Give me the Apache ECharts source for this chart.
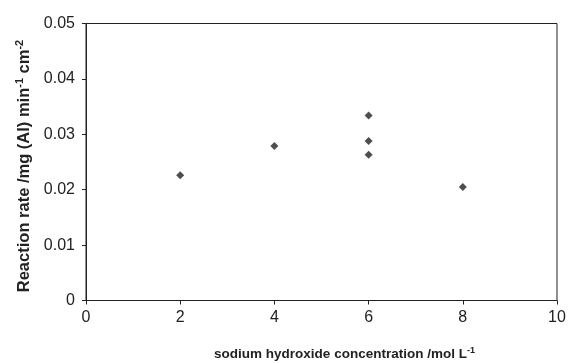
<!DOCTYPE html>
<html>
<head>
<meta charset="utf-8">
<script src="https://cdn.jsdelivr.net/npm/echarts@6/dist/echarts.min.js"></script>
<style>html,body{margin:0;padding:0;background:#fff}#c{width:568px;height:363px}</style>
</head>
<body>
<div id="c"></div>
<script>
const concentration = [2, 4, 6, 6, 6, 8];
const reactionRate = [0.0226, 0.0279, 0.0334, 0.0288, 0.0263, 0.0205];
const xTicks = [0, 2, 4, 6, 8, 10];
const yTicks = [0, 0.01, 0.02, 0.03, 0.04, 0.05];

const points = concentration.map((x, i) => [x, reactionRate[i]]);
const chart = echarts.init(document.getElementById('c'), null, {renderer: 'canvas'});
const font = 'Liberation Sans, Arial, sans-serif';
const supX = {fontSize: 9, fontWeight: 'bold', fontFamily: font, color: '#222', verticalAlign: 'top', padding: [0, 0, 7, 0]};
const supY = {fontSize: 11, fontWeight: 'bold', fontFamily: font, color: '#222', verticalAlign: 'top', padding: [0, 0, 9, 0]};
chart.setOption({
  animation: false,
  backgroundColor: '#fff',
  grid: {left: 86, right: 11, top: 23.5, bottom: 62.5, containLabel: false, outerBoundsMode: 'none',
    show: true, borderColor: '#222', borderWidth: 1, backgroundColor: 'transparent'},
  xAxis: {
    type: 'value', min: xTicks[0], max: xTicks[xTicks.length - 1], interval: 2,
    name: 'sodium hydroxide concentration /mol L{sup|-1}',
    nameLocation: 'middle', nameGap: 46,
    nameTextStyle: {fontSize: 13.5, fontWeight: 'bold', fontFamily: font, color: '#222', padding: [0, 0, 0, 46], rich: {sup: supX}},
    axisLine: {show: true, lineStyle: {color: '#222', width: 1}},
    axisTick: {show: true, inside: false, length: 4, lineStyle: {color: '#222'}},
    axisLabel: {fontSize: 16, fontFamily: font, color: '#222', margin: 9},
    splitLine: {show: false}
  },
  yAxis: {
    type: 'value', min: yTicks[0], max: yTicks[yTicks.length - 1], interval: 0.01,
    name: 'Reaction rate /mg (Al) min{sup|-1} cm{sup|-2}',
    nameLocation: 'middle', nameGap: 50,
    nameTextStyle: {fontSize: 16.5, fontWeight: 'bold', fontFamily: font, color: '#222', padding: [0, 8, 0, 0], rich: {sup: supY}},
    axisLine: {show: true, lineStyle: {color: '#222', width: 1}},
    axisTick: {show: true, inside: false, length: 4, lineStyle: {color: '#222'}},
    axisLabel: {fontSize: 16, fontFamily: font, color: '#222', margin: 11,
      formatter: v => (v === 0 ? '0' : v.toFixed(2))},
    splitLine: {show: false}
  },
  series: [{
    type: 'scatter',
    data: points,
    symbol: 'diamond',
    symbolSize: 8,
    itemStyle: {color: '#222'}
  }]
});
</script>
</body>
</html>
